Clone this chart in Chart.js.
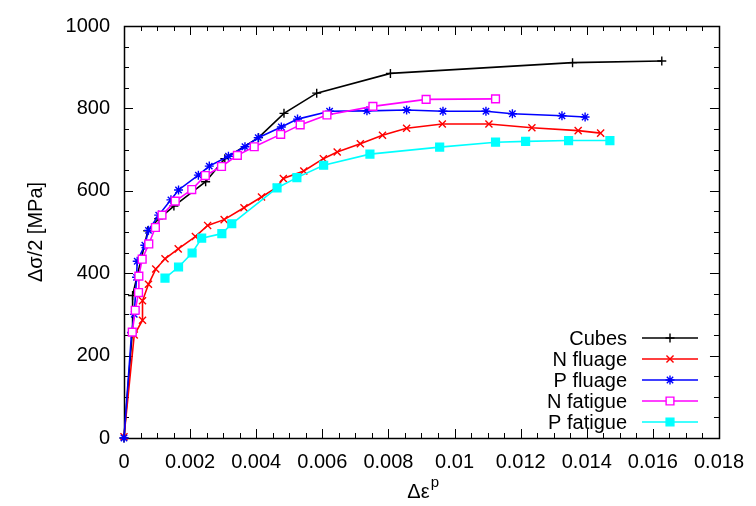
<!DOCTYPE html>
<html>
<head>
<meta charset="utf-8">
<title>Δσ/2 vs Δε^p</title>
<script src="https://cdn.jsdelivr.net/npm/chart.js@4.4.1/dist/chart.umd.min.js"></script>
<style>
    html, body { margin: 0; padding: 0; background: #fff; }
    #chart { display: block; }
</style>
</head>
<body>
<canvas id="chart" width="756" height="506"></canvas>
<script>
// series: strain range (x) and stress amplitude in MPa (y)
const cubesX = [0, 0.00025, 0.00026, 0.00072, 0.00105, 0.00151, 0.00247, 0.00305, 0.00407, 0.00484, 0.00583, 0.00806, 0.01357, 0.01627];
const cubesY = [0, 255, 346, 503, 532, 563, 622, 678, 729, 788, 837, 885, 911, 915];

const nFluageX = [0, 0.00031, 0.00056, 0.00056, 0.00074, 0.00096, 0.00124, 0.00164, 0.00216, 0.00253, 0.00303, 0.00363, 0.00416, 0.00462, 0.00482, 0.00544, 0.00603, 0.00645, 0.00715, 0.00782, 0.00855, 0.00963, 0.01104, 0.01234, 0.01374, 0.01442];
const nFluageY = [3, 250, 286, 333, 373, 410, 435, 459, 489, 516, 530, 559, 585, 608, 630, 648, 678, 694, 714, 735, 752, 762, 762, 753, 746, 740];

const pFluageX = [0, 0.00023, 0.00031, 0.00038, 0.0004, 0.00063, 0.00074, 0.00105, 0.00142, 0.00165, 0.00225, 0.00258, 0.00316, 0.00366, 0.00406, 0.00476, 0.00525, 0.00622, 0.00735, 0.00855, 0.00965, 0.01095, 0.01175, 0.01325, 0.01395];
const pFluageY = [0, 256, 300, 390, 429, 468, 504, 541, 578, 602, 638, 660, 684, 707, 729, 755, 774, 793, 794, 796, 793, 793, 787, 782, 779];

const nFatigueX = [0.00025, 0.00034, 0.00044, 0.00045, 0.00055, 0.00075, 0.00095, 0.00115, 0.00155, 0.00205, 0.00246, 0.00295, 0.00343, 0.00394, 0.00474, 0.00533, 0.00614, 0.00753, 0.00914, 0.01124];
const nFatigueY = [257, 310, 353, 393, 434, 471, 511, 541, 575, 603, 637, 659, 686, 707, 737, 760, 784, 805, 822, 823];

const pFatigueX = [0.00124, 0.00165, 0.00206, 0.00235, 0.00296, 0.00326, 0.00463, 0.00523, 0.00604, 0.00744, 0.00955, 0.01124, 0.01215, 0.01345, 0.0147];
const pFatigueY = [388, 415, 449, 485, 496, 520, 607, 632, 662, 689, 706, 718, 720, 722, 722];

const seriesLabels = ['Cubes', 'N fluage', 'P fluage', 'N fatigue', 'P fatigue'];

const FONT = '"Liberation Sans", Arial, sans-serif';

function toPoints(xs, ys) {
    return xs.map((x, i) => ({ x: x, y: ys[i] }));
}

function makeSet(label, xs, ys, color, style, radius, fill, order) {
    return {
        label: label,
        data: toPoints(xs, ys),
        showLine: true,
        borderColor: color,
        backgroundColor: fill,
        borderWidth: 1.6,
        tension: 0,
        pointStyle: style,
        pointRadius: radius,
        pointHoverRadius: radius,
        pointBorderColor: color,
        pointBackgroundColor: fill,
        pointBorderWidth: 1.4,
        clip: false,
        order: order
    };
}

// gnuplot style: frame, inward ticks on all four sides, titles and legend
const gnuFrame = {
    id: 'gnuFrame',
    beforeDatasetsDraw(chart) {
        const ctx = chart.ctx;
        const a = chart.chartArea;
        const xs = chart.scales.x;
        const ys = chart.scales.y;
        ctx.save();
        ctx.strokeStyle = '#000';
        ctx.lineWidth = 1;
        for (let i = 0; i <= 36; i++) {
            const px = Math.round(xs.getPixelForValue(i * 0.0005)) + 0.5;
            const len = i % 4 === 0 ? 9 : 5;
            ctx.beginPath();
            ctx.moveTo(px, a.bottom); ctx.lineTo(px, a.bottom - len);
            ctx.moveTo(px, a.top); ctx.lineTo(px, a.top + len);
            ctx.stroke();
        }
        for (let i = 0; i <= 20; i++) {
            const py = Math.round(ys.getPixelForValue(i * 50)) + 0.5;
            const len = i % 4 === 0 ? 9 : 5;
            ctx.beginPath();
            ctx.moveTo(a.left, py); ctx.lineTo(a.left + len, py);
            ctx.moveTo(a.right, py); ctx.lineTo(a.right - len, py);
            ctx.stroke();
        }
        ctx.lineWidth = 1.5;
        ctx.strokeRect(Math.round(a.left) + 0.5, Math.round(a.top) + 0.5,
            Math.round(a.right - a.left), Math.round(a.bottom - a.top));
        ctx.restore();
    },
    afterDraw(chart) {
        const ctx = chart.ctx;
        const a = chart.chartArea;
        ctx.save();
        ctx.fillStyle = '#000';

        // y title, rotated
        ctx.font = '20px ' + FONT;
        ctx.textAlign = 'center';
        ctx.textBaseline = 'middle';
        ctx.save();
        ctx.translate(36, (a.top + a.bottom) / 2);
        ctx.rotate(-Math.PI / 2);
        ctx.fillText('Δσ/2 [MPa]', 0, 0);
        ctx.restore();

        // x title with superscript p
        ctx.textAlign = 'left';
        ctx.textBaseline = 'alphabetic';
        ctx.font = '20px ' + FONT;
        const base = 'Δε';
        const w = ctx.measureText(base).width;
        const cx = (a.left + a.right) / 2 + 2;
        ctx.fillText(base, cx - w / 2 - 5, 498);
        ctx.font = '15px ' + FONT;
        ctx.fillText('p', cx + w / 2 - 4, 487);

        // legend: text right aligned, sample line with marker to the right
        const sets = chart.data.datasets;
        sets.forEach((ds, i) => {
            const y = 338 + i * 21;
            ctx.font = '20px ' + FONT;
            ctx.textAlign = 'right';
            ctx.textBaseline = 'middle';
            ctx.fillStyle = '#000';
            ctx.fillText(ds.label, 627, y + 1);
            ctx.strokeStyle = ds.borderColor;
            ctx.lineWidth = ds.borderWidth;
            ctx.beginPath();
            ctx.moveTo(642, y); ctx.lineTo(698, y);
            ctx.stroke();
            ctx.fillStyle = ds.pointBackgroundColor;
            ctx.lineWidth = ds.pointBorderWidth;
            Chart.helpers.drawPoint(ctx, {
                pointStyle: ds.pointStyle,
                radius: ds.pointRadius,
                rotation: 0,
                borderWidth: ds.pointBorderWidth
            }, 670, y);
        });
        ctx.restore();
    }
};

function fmtX(v) {
    return parseFloat(Number(v).toFixed(4)).toString();
}

const ctx = document.getElementById('chart').getContext('2d');
new Chart(ctx, {
    type: 'scatter',
    data: {
        datasets: [
            makeSet(seriesLabels[0], cubesX, cubesY, '#000000', 'cross', 4.5, '#000000', 5),
            makeSet(seriesLabels[1], nFluageX, nFluageY, '#ff0000', 'crossRot', 5, '#ff0000', 4),
            makeSet(seriesLabels[2], pFluageX, pFluageY, '#0000ff', 'star', 4.5, '#0000ff', 3),
            makeSet(seriesLabels[3], nFatigueX, nFatigueY, '#ff00ff', 'rect', 5.5, '#ffffff', 2),
            makeSet(seriesLabels[4], pFatigueX, pFatigueY, '#00ffff', 'rect', 5.5, '#00ffff', 1)
        ]
    },
    options: {
        responsive: false,
        animation: false,
        events: [],
        layout: { padding: { left: 0, right: 29, top: 19, bottom: 0 } },
        plugins: {
            legend: { display: false },
            tooltip: { enabled: false },
            title: { display: false }
        },
        scales: {
            x: {
                type: 'linear',
                min: 0,
                max: 0.018,
                afterFit: s => { s.height = 68; },
                grid: { display: false, drawTicks: false },
                border: { display: false },
                ticks: {
                    stepSize: 0.002,
                    padding: 12,
                    color: '#000',
                    font: { family: FONT, size: 20 },
                    maxRotation: 0,
                    autoSkip: false,
                    callback: v => fmtX(v)
                }
            },
            y: {
                type: 'linear',
                min: 0,
                max: 1000,
                afterFit: s => { s.width = 124; },
                grid: { display: false, drawTicks: false },
                border: { display: false },
                ticks: {
                    stepSize: 200,
                    padding: 14,
                    color: '#000',
                    font: { family: FONT, size: 20 },
                    callback: v => String(v)
                }
            }
        }
    },
    plugins: [gnuFrame]
});
</script>
</body>
</html>
